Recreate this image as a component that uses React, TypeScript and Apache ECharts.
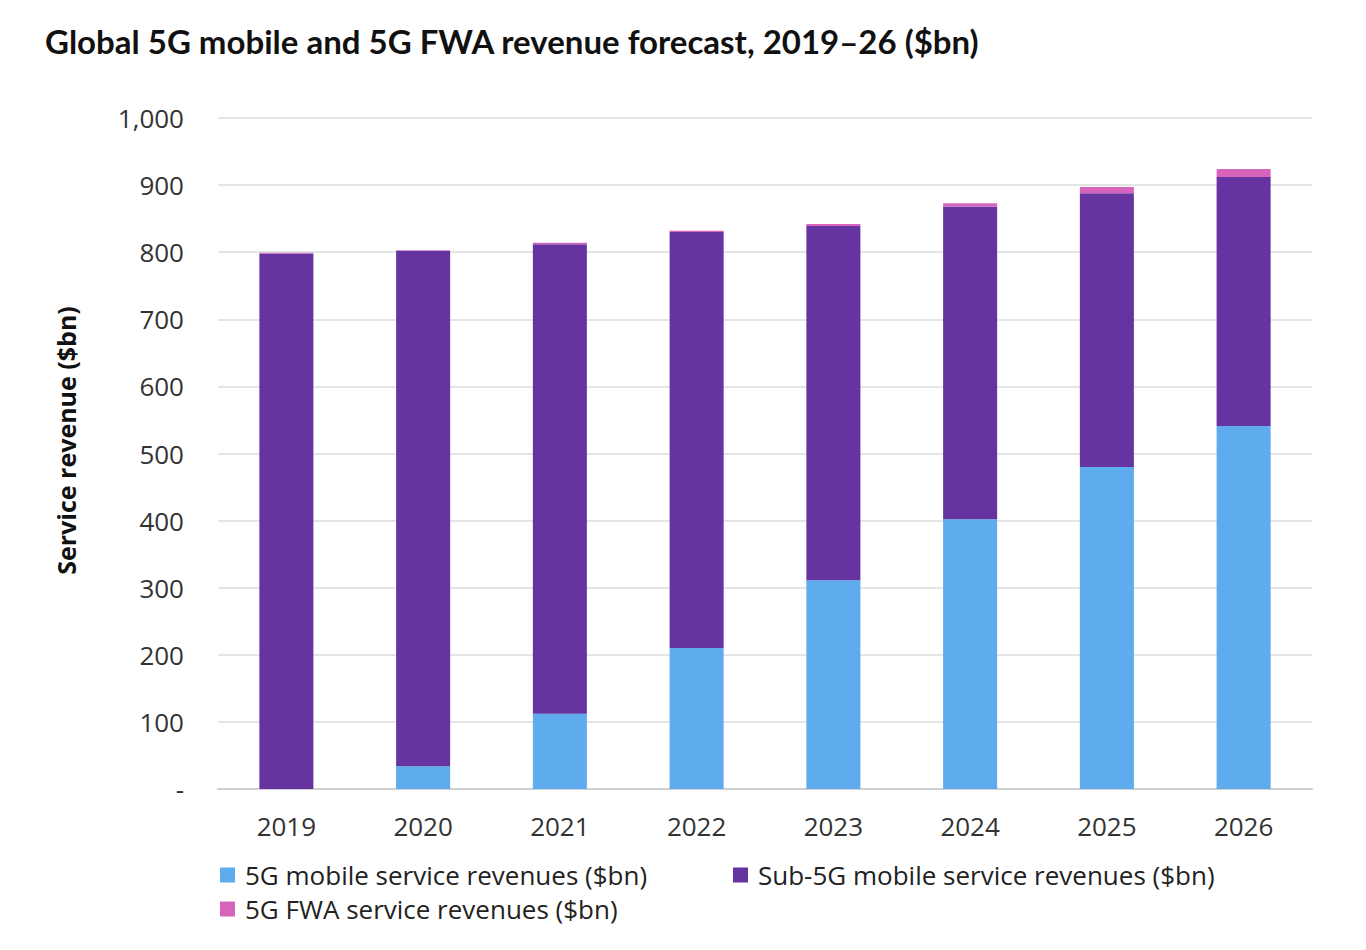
import React, { useEffect, useRef } from "react";
import * as echarts from "echarts";

const years = ["2019", "2020", "2021", "2022", "2023", "2024", "2025", "2026"];
const mobile5G = [0, 34, 112, 210, 311, 402, 480, 541];
const sub5G = [798, 768, 700, 620, 528, 466, 408, 371];
const fwa5G = [1, 1, 2, 2, 3, 5, 9, 12];
const seriesNames = [
  "5G mobile service revenues ($bn)",
  "Sub-5G mobile service revenues ($bn)",
  "5G FWA service revenues ($bn)",
];
const colors = ["#5eabed", "#6534a0", "#d764bb"];

const FONT = "Open Sans, sans-serif";

export default function App() {
  const ref = useRef<HTMLDivElement>(null);
  useEffect(() => {
    if (!ref.current) return;
    const chart = echarts.init(ref.current, null, { renderer: "svg" });
    const legendText = { fontFamily: FONT, fontSize: 26, color: "#222", padding: [0, 0, 0, 5] };
    const legendBase = { itemWidth: 15, itemHeight: 15, icon: "rect", itemGap: 10, textStyle: legendText };
    chart.setOption({
      animation: false,
      backgroundColor: "#ffffff",
      title: {
        text: "Global 5G mobile and 5G FWA revenue forecast, 2019–26 ($bn)",
        left: 32,
        top: 11,
        textStyle: { fontFamily: "Lato, sans-serif", fontWeight: "bold", fontSize: 33, color: "#111" },
      },
      grid: { left: 210, right: 46, top: 110, bottom: 153, containLabel: false },
      legend: [
        { ...legendBase, data: [seriesNames[0]], left: 207, top: 849 },
        { ...legendBase, data: [seriesNames[1]], left: 720, top: 849 },
        { ...legendBase, data: [seriesNames[2]], left: 207, top: 883 },
      ],
      xAxis: {
        type: "category",
        data: years,
        axisLine: { lineStyle: { color: "#d0d0d0", width: 2 } },
        axisTick: { show: false },
        axisLabel: { fontFamily: FONT, fontSize: 26, color: "#333", margin: 24 },
      },
      yAxis: {
        type: "value",
        min: 0,
        max: 1000,
        interval: 100,
        name: "Service revenue ($bn)",
        nameLocation: "middle",
        nameGap: 140,
        nameRotate: 90,
        nameTextStyle: { fontFamily: FONT, fontWeight: "bold", fontSize: 25, color: "#111", padding: [0, 0, 0, 26] },
        axisLine: { show: false },
        axisTick: { show: false },
        splitLine: { lineStyle: { color: "#dcdcdc", width: 1.5 } },
        axisLabel: {
          fontFamily: FONT,
          fontSize: 26,
          color: "#333",
          margin: 34,
          formatter: (v: number) => (v === 0 ? "-" : v.toLocaleString("en-US")),
        },
      },
      series: [
        { name: seriesNames[0], type: "bar", stack: "t", data: mobile5G, barWidth: "39.5%", itemStyle: { color: colors[0] } },
        { name: seriesNames[1], type: "bar", stack: "t", data: sub5G, barWidth: "39.5%", itemStyle: { color: colors[1] } },
        { name: seriesNames[2], type: "bar", stack: "t", data: fwa5G, barWidth: "39.5%", itemStyle: { color: colors[2] } },
      ],
    });
    return () => chart.dispose();
  }, []);
  return <div ref={ref} style={{ width: 1350, height: 934 }} />;
}
